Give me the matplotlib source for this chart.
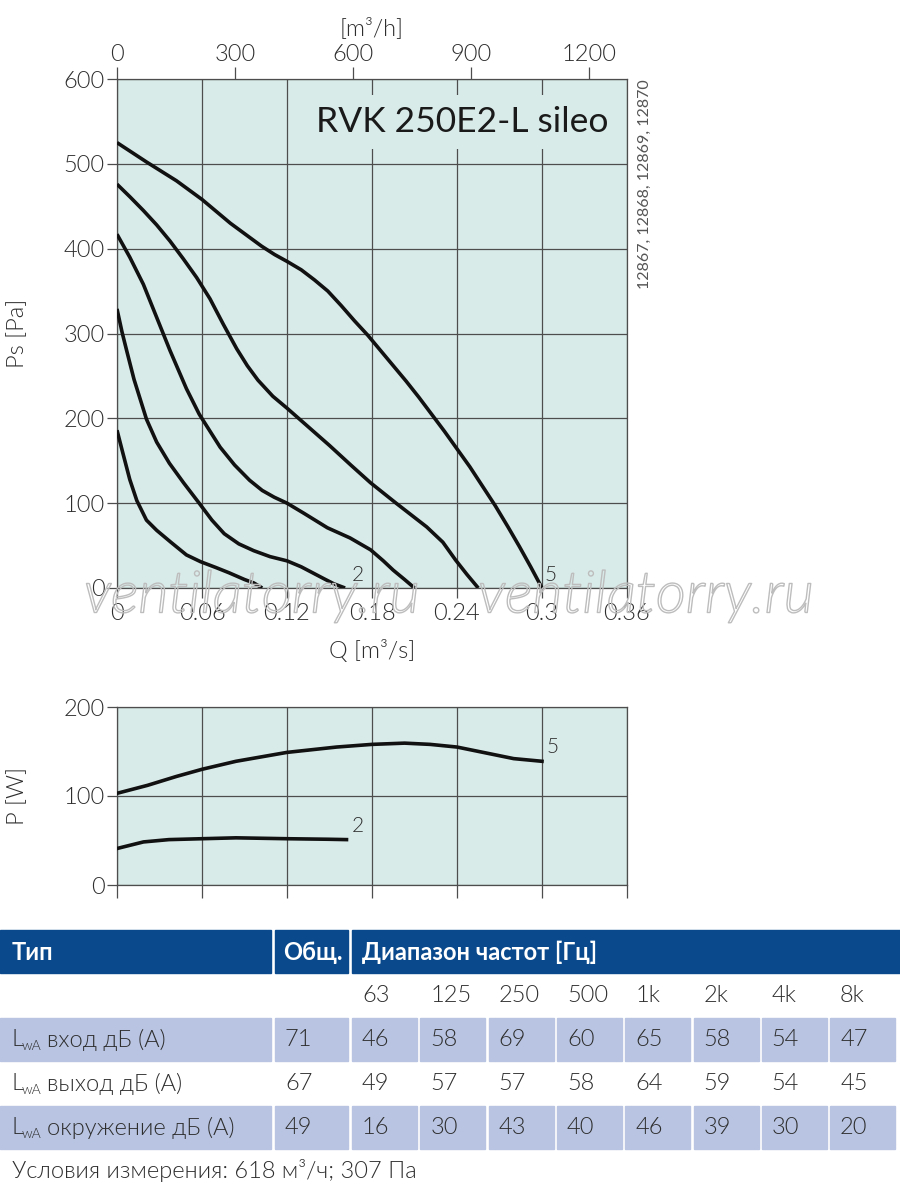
import numpy as np
import matplotlib
matplotlib.use('Agg')
import matplotlib.pyplot as plt
from matplotlib.patches import Rectangle
import matplotlib.patheffects as pe

FONT = ['Lato', 'DejaVu Sans']
plt.rcParams['font.family'] = FONT
LIGHT = 300

# ---- fan curves: Q [m3/s] vs Ps [Pa] ----
q1 = [0, 0.004, 0.009, 0.014, 0.0208, 0.028, 0.038, 0.049, 0.059, 0.07, 0.079, 0.09, 0.0965, 0.1025]
p1 = [186, 160, 128, 103, 80, 68, 54, 39, 31, 24, 18, 10, 6, 0]

q2 = [0, 0.0035, 0.0068, 0.012, 0.0208, 0.028, 0.037, 0.047, 0.058, 0.067, 0.0757, 0.086, 0.0965,
      0.108, 0.12, 0.13, 0.138, 0.146, 0.153, 0.161]
p2 = [329, 302, 280, 246, 199, 172, 147, 124, 100, 80, 64, 52, 44, 37, 32, 25, 18, 11, 5, 0]

q3 = [0, 0.009, 0.0186, 0.028, 0.0374, 0.049, 0.058, 0.0728, 0.083, 0.0936, 0.1025, 0.111, 0.12,
      0.132, 0.1485, 0.1645, 0.179, 0.188, 0.195, 0.203, 0.21]
p3 = [417, 390, 358, 319, 280, 235, 205, 166, 145, 127, 115, 107, 100, 88, 71, 59, 45, 32, 21, 10, 0]

q4 = [0, 0.0092, 0.0186, 0.028, 0.0374, 0.0468, 0.0562, 0.0656, 0.075, 0.0845, 0.092, 0.0995, 0.11,
      0.12, 0.135, 0.15, 0.165, 0.179, 0.197, 0.2186, 0.23, 0.239, 0.247, 0.255]
p4 = [476, 461, 445, 428, 409, 388, 366, 341, 311, 282, 262, 245, 226, 212, 190, 168, 145, 124, 100,
      72, 54, 33, 16, 0]

q5 = [0, 0.021, 0.042, 0.06, 0.08, 0.102, 0.1113, 0.12, 0.1301, 0.1395, 0.1488, 0.1582, 0.1676,
      0.177, 0.186, 0.195, 0.204, 0.213, 0.222, 0.231, 0.24, 0.249, 0.258, 0.267, 0.276, 0.284,
      0.292, 0.30]
p5 = [525, 502, 480, 458, 430, 403, 393, 385, 375, 363, 350, 333, 315, 298, 280, 262, 244, 225, 205,
      185, 164, 143, 120, 97, 72, 49, 25, 0]

# ---- power curves: Q [m3/s] vs P [W] ----
wq5 = [0, 0.0216, 0.042, 0.06, 0.084, 0.12, 0.155, 0.18, 0.203, 0.221, 0.24, 0.26, 0.28, 0.30]
wp5 = [103, 112, 122, 130, 139, 149, 155, 158, 159.4, 158, 155, 148.5, 142, 139]
wq2 = [0, 0.0187, 0.0366, 0.06, 0.084, 0.12, 0.149, 0.162]
wp2 = [41, 48.4, 51, 52, 53, 52, 51.4, 51]

# ---- sound table ----
freq_labels = ['63', '125', '250', '500', '1k', '2k', '4k', '8k']
row_labels = ['вход дБ (A)', 'выход дБ (A)', 'окружение дБ (A)']
total_db = [71, 67, 49]
inlet_db = [46, 58, 69, 60, 65, 58, 54, 47]
outlet_db = [49, 57, 57, 58, 64, 59, 54, 45]
surround_db = [16, 30, 43, 40, 46, 39, 30, 20]

BG = '#d9ebe9'
GRID = '#4d4d4d'
TXT = '#2e2e2e'
q_ticks = [0, 0.06, 0.12, 0.18, 0.24, 0.3, 0.36]

W, H = 900, 1196
fig = plt.figure(figsize=(9, 11.96), dpi=100)


def style_axes(ax, ylim, yticks):
    ax.set_facecolor(BG)
    ax.set_xlim(0, 0.36)
    ax.set_ylim(*ylim)
    ax.set_xticks(q_ticks)
    ax.set_yticks(yticks)
    ax.grid(True, color=GRID, linewidth=0.9)
    for s in ax.spines.values():
        s.set_color(GRID)
        s.set_linewidth(0.9)
    ax.tick_params(colors=GRID, labelcolor=TXT, labelsize=17, length=7, width=0.9, pad=2)
    ax.tick_params(axis='x', pad=4)
    for lab in ax.get_xticklabels() + ax.get_yticklabels():
        lab.set_fontweight(LIGHT)


# top chart
ax = fig.add_axes([117 / W, 1 - 588 / H, 510 / W, 509 / H])
style_axes(ax, (0, 600), range(0, 601, 100))
ax.set_xticklabels(['0', '0.06', '0.12', '0.18', '0.24', '0.3', '0.36'], fontweight=LIGHT)
for q, p in [(q1, p1), (q2, p2), (q3, p3), (q4, p4), (q5, p5)]:
    ax.plot(q, p, color='#111111', lw=2.6, solid_capstyle='butt', solid_joinstyle='round', zorder=3)
ax.text(0.166, 8, '2', fontsize=15, color=TXT, fontweight=LIGHT, zorder=4)
ax.text(0.302, 8, '5', fontsize=15, color=TXT, fontweight=LIGHT, zorder=4)
ax.set_xlabel('Q [m³/s]', fontsize=17, color=TXT, fontweight=LIGHT)
ax.xaxis.set_label_coords(0.5, -0.1)
ax.set_ylabel('Ps [Pa]', fontsize=17, color=TXT, fontweight=LIGHT)
ax.yaxis.set_label_coords(-0.175, 0.5)
ax.text(0.347, 549, 'RVK 250E2-L sileo', fontsize=25.5, color='#1a1a1a', ha='right', va='center',
        zorder=2.5, bbox=dict(facecolor=BG, edgecolor='none', pad=8))

top = ax.secondary_xaxis('top', functions=(lambda q: q * 3600, lambda h: h / 3600))
top.set_xticks([0, 300, 600, 900, 1200])
top.tick_params(colors=GRID, labelcolor=TXT, labelsize=17, length=9, width=0.9, pad=1)
for lab in top.get_xticklabels():
    lab.set_fontweight(LIGHT)
top.spines['top'].set_visible(False)
ax.text(0.5, 1.1, '[m³/h]', transform=ax.transAxes, fontsize=17, color=TXT, fontweight=LIGHT,
        ha='center', va='center')

ax.text(1.035, 1.0, '12867, 12868, 12869, 12870', transform=ax.transAxes, rotation=90,
        fontsize=11.5, color='#555555', ha='center', va='top')

# power chart
bx = fig.add_axes([117 / W, 1 - 885 / H, 510 / W, 178 / H])
style_axes(bx, (0, 200), [0, 100, 200])
bx.set_xticklabels([])
bx.tick_params(axis='x', length=9)
bx.plot(wq5, wp5, color='#111111', lw=2.6, zorder=3)
bx.plot(wq2, wp2, color='#111111', lw=2.6, zorder=3)
bx.text(0.166, 60, '2', fontsize=15, color=TXT, fontweight=LIGHT)
bx.text(0.303, 148, '5', fontsize=15, color=TXT, fontweight=LIGHT)
bx.set_ylabel('P [W]', fontsize=17, color=TXT, fontweight=LIGHT)
bx.yaxis.set_label_coords(-0.175, 0.5)

# overlay in pixel coordinates: table, watermark
ov = fig.add_axes([0, 0, 1, 1], zorder=5)
ov.set_xlim(0, W)
ov.set_ylim(H, 0)
ov.axis('off')
ov.patch.set_alpha(0)

HEAD = '#0a4a8c'
CELL = '#b8c4e1'
freq_x = [352 + i * 68.3 for i in range(8)]
cw = 65

# header
ov.add_patch(Rectangle((0, 930), 271, 43, color=HEAD))
ov.add_patch(Rectangle((275, 930), 73, 43, color=HEAD))
ov.add_patch(Rectangle((352, 930), 548, 43, color=HEAD))
hkw = dict(color='white', fontsize=17, fontweight='bold', va='center')
ov.text(12, 952, 'Тип', **hkw)
ov.text(283, 952, 'Общ.', **hkw)
ov.text(362, 952, 'Диапазон частот [Гц]', **hkw)

bkw = dict(fontsize=17, color=TXT, va='center', fontweight=LIGHT)
for x, lab in zip(freq_x, freq_labels):
    ov.text(x + 10, 996, lab, **bkw)

rows = [inlet_db, outlet_db, surround_db]
row_y = [1018, 1062, 1106]
for i, (y, lab, tot, vals) in enumerate(zip(row_y, row_labels, total_db, rows)):
    if i != 1:
        ov.add_patch(Rectangle((0, y), 271, 43, color=CELL))
        ov.add_patch(Rectangle((275, y), 73, 43, color=CELL))
        for x in freq_x:
            ov.add_patch(Rectangle((x, y), cw, 43, color=CELL))
    yc = y + 22
    ov.text(12, yc, 'L', **bkw)
    ov.text(22, yc + 6, 'wA', fontsize=10, color=TXT, va='center', fontweight=LIGHT)
    ov.text(47, yc, lab, **bkw)
    ov.text(285, yc, str(tot), **bkw)
    for x, v in zip(freq_x, vals):
        ov.text(x + 10, yc, str(v), **bkw)

ov.text(12, 1171, 'Условия измерения: 618 м³/ч; 307 Па', **bkw)

# watermark
for x in (84, 478):
    ov.text(x, 597, 'ventilatorry.ru', fontsize=42, style='italic', color='none', va='center',
            fontweight=LIGHT,
            path_effects=[pe.Stroke(linewidth=1.0, foreground='#bdbdbd')])

fig.savefig('out.png', dpi=100)
